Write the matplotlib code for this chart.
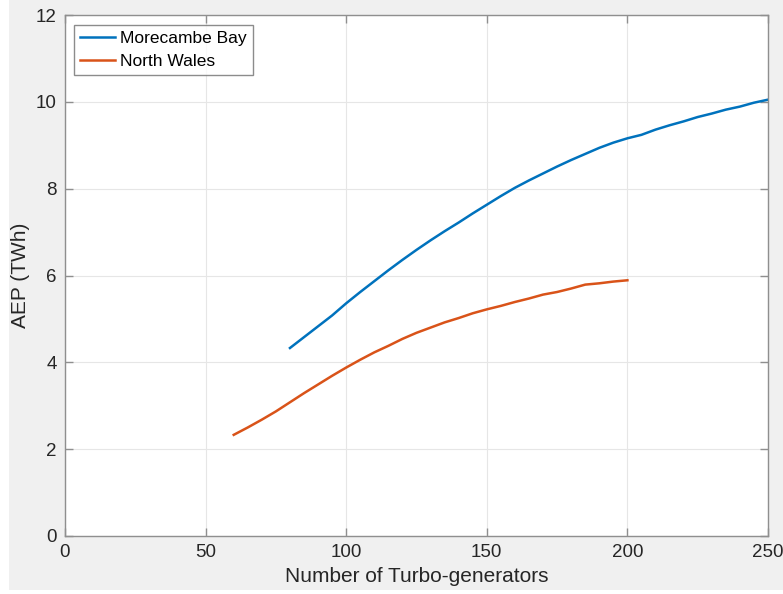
import matplotlib.pyplot as plt
from matplotlib.patches import Rectangle

plt.rcParams['font.family'] = ['Liberation Sans', 'DejaVu Sans']

# Morecambe Bay
mb_n = [80, 85, 90, 95, 100, 105, 110, 115, 120, 125, 130, 135, 140, 145, 150,
        155, 160, 165, 170, 175, 180, 185, 190, 195, 200, 205, 210, 215, 220,
        225, 230, 235, 240, 245, 250]
mb_aep = [4.33, 4.58, 4.83, 5.08, 5.36, 5.62, 5.87, 6.12, 6.36, 6.59, 6.81,
          7.02, 7.22, 7.43, 7.63, 7.83, 8.02, 8.19, 8.35, 8.51, 8.66, 8.80,
          8.94, 9.06, 9.16, 9.24, 9.36, 9.46, 9.55, 9.65, 9.73, 9.82, 9.89,
          9.98, 10.05]

# North Wales
nw_n = [60, 65, 70, 75, 80, 85, 90, 95, 100, 105, 110, 115, 120, 125, 130,
        135, 140, 145, 150, 155, 160, 165, 170, 175, 180, 185, 190, 195, 200]
nw_aep = [2.33, 2.50, 2.68, 2.87, 3.08, 3.29, 3.49, 3.69, 3.88, 4.06, 4.23,
          4.38, 4.54, 4.68, 4.80, 4.92, 5.02, 5.13, 5.22, 5.30, 5.39, 5.47,
          5.56, 5.62, 5.70, 5.79, 5.82, 5.86, 5.89]

dark = '#262626'
edge = '#8f8f8f'

fig = plt.figure(figsize=(7.83, 5.94), dpi=100)
fig.patch.set_facecolor('white')
fig.add_artist(Rectangle((9 / 783, 4 / 594), 1, 1, transform=fig.transFigure,
                         facecolor='#f0f0f0', edgecolor='none', zorder=-10))
ax = fig.add_axes([65 / 783, 58 / 594, 703 / 783, 521 / 594])
ax.set_facecolor('white')

ax.plot(mb_n, mb_aep, color='#0072BD', lw=1.8, label='Morecambe Bay')
ax.plot(nw_n, nw_aep, color='#D95319', lw=1.8, label='North Wales')

ax.set_xlim(0, 250)
ax.set_ylim(0, 12)
ax.set_xticks([0, 50, 100, 150, 200, 250])
ax.set_yticks([0, 2, 4, 6, 8, 10, 12])
ax.grid(True, color='#e6e6e6', lw=0.8)
ax.set_axisbelow(True)
ax.tick_params(direction='in', top=True, right=True, color=edge,
               labelcolor=dark, labelsize=13.5, length=6, width=1, pad=6)
for s in ax.spines.values():
    s.set_color(edge)
    s.set_linewidth(1)

ax.set_xlabel('Number of Turbo-generators', fontsize=15, color=dark, labelpad=4)
ax.set_ylabel('AEP (TWh)', fontsize=15, color=dark, labelpad=4)

leg = ax.legend(loc='upper left', fontsize=12.5, frameon=True, fancybox=False,
                edgecolor='#707070', handlelength=2.0, borderpad=0.35,
                labelspacing=0.45, handletextpad=0.3, borderaxespad=0,
                bbox_to_anchor=(9 / 703, 1 - 10 / 521))
leg.get_frame().set_linewidth(1)

fig.savefig('out.png', dpi=100, facecolor=fig.get_facecolor())
